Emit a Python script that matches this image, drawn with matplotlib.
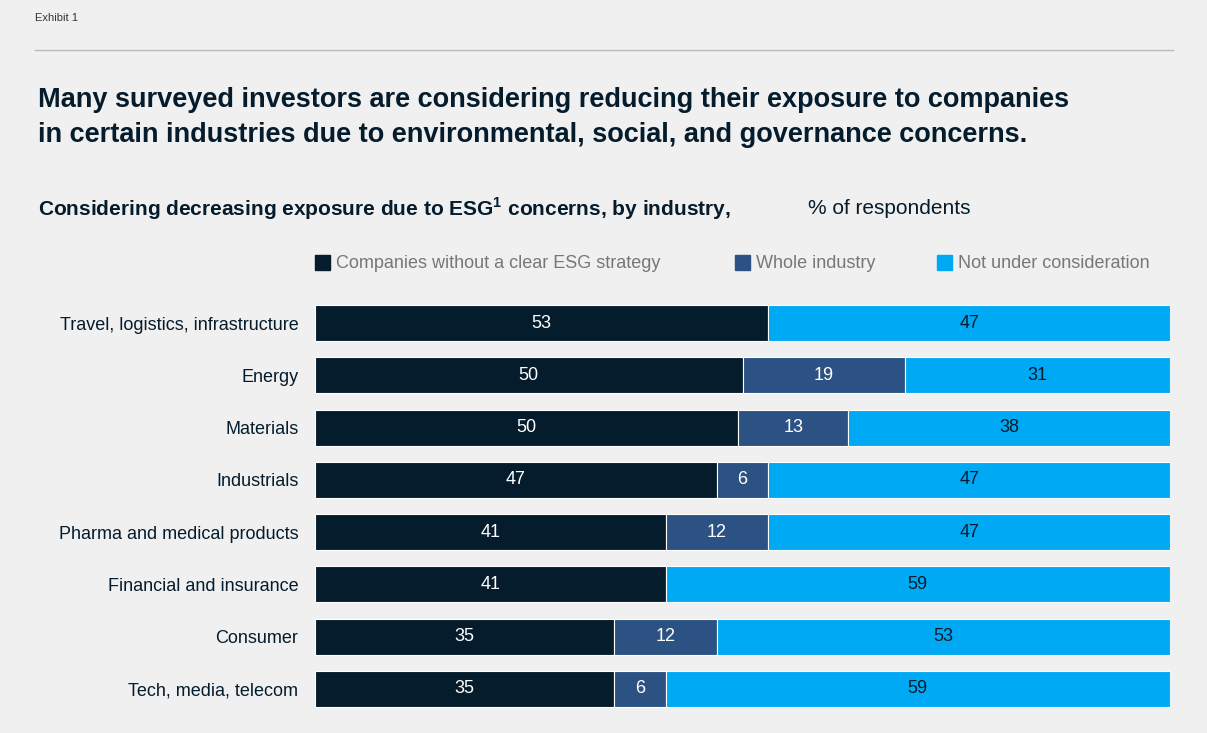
import matplotlib.pyplot as plt
from matplotlib.patches import Rectangle

industries = ["Travel, logistics, infrastructure", "Energy", "Materials", "Industrials",
              "Pharma and medical products", "Financial and insurance", "Consumer",
              "Tech, media, telecom"]
no_strategy = [53, 50, 50, 47, 41, 41, 35, 35]
whole_industry = [0, 19, 13, 6, 12, 0, 12, 6]
not_considered = [47, 31, 38, 47, 47, 59, 53, 59]

series = ["Companies without a clear ESG strategy", "Whole industry", "Not under consideration"]
colors = ["#051c2c", "#2b5283", "#00a9f4"]
text_colors = ["white", "white", "#051c2c"]
bg = "#f0f0f0"

plt.rcParams['font.family'] = ['Liberation Sans', 'DejaVu Sans']
fig = plt.figure(figsize=(12.07, 7.33), dpi=100, facecolor=bg)

fig.text(35/1207, 1-18/733, "Exhibit 1", fontsize=8, color="#333333", va="center")
fig.add_artist(plt.Line2D([35/1207, 1173/1207], [1-50/733, 1-50/733], color="#bbbbbb", lw=1))
fig.text(38/1207, 1-100/733, "Many surveyed investors are considering reducing their exposure to companies",
         fontsize=19.5, fontweight="bold", color="#051c2c", va="center")
fig.text(38/1207, 1-135/733, "in certain industries due to environmental, social, and governance concerns.",
         fontsize=19.5, fontweight="bold", color="#051c2c", va="center")
fig.text(38/1207, 1-209/733, r"Considering decreasing exposure due to ESG$^{\mathregular{1}}$ concerns, by industry,",
         fontsize=15, fontweight="bold", color="#051c2c", va="center")
fig.text(808/1207, 1-209/733, "% of respondents", fontsize=15, color="#051c2c", va="center")

# legend
leg_x = [315, 735, 937]
for x, name, c in zip(leg_x, series, colors):
    fig.add_artist(Rectangle((x/1207, 1-270/733), 15/1207, 15/733, color=c, transform=fig.transFigure))
    fig.text((x+21)/1207, 1-263/733, name, fontsize=13, color="#777777", va="center")

ax = fig.add_axes([315/1207, 1-715/733, 855/1207, 418/733])
ax.set_facecolor(bg)
for i, name in enumerate(industries):
    vals = [no_strategy[i], whole_industry[i], not_considered[i]]
    total = sum(vals)
    left = 0
    for v, c, tc in zip(vals, colors, text_colors):
        if v == 0:
            continue
        w = v / total * 100
        ax.barh(i, w, left=left, height=0.69, color=c, edgecolor="white", linewidth=0.8)
        ax.text(left + w/2, i, str(v), ha="center", va="center", fontsize=13, color=tc)
        left += w
ax.set_xlim(0, 100)
ax.set_ylim(7.5, -0.5)
ax.set_yticks(range(len(industries)))
ax.set_yticklabels(industries, fontsize=13, color="#051c2c")
ax.tick_params(axis="y", length=0, pad=12)
ax.set_xticks([])
for s in ax.spines.values():
    s.set_visible(False)

fig.savefig("out.png", facecolor=bg)
